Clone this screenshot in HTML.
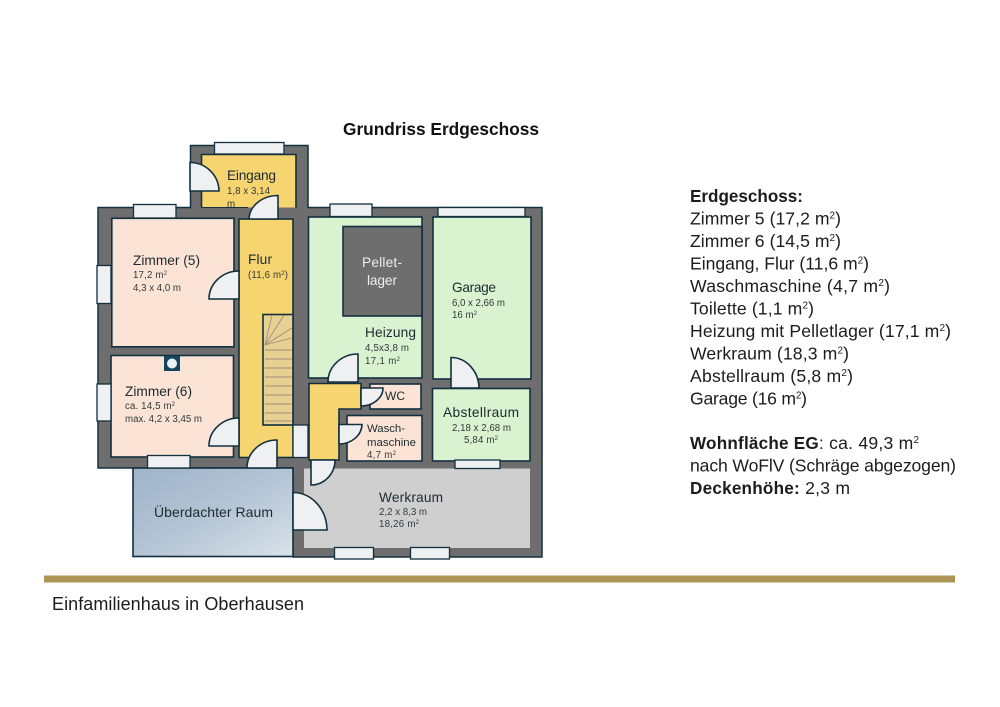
<!DOCTYPE html>
<html lang="de">
<head>
<meta charset="utf-8">
<title>Grundriss Erdgeschoss</title>
<style>
html,body{margin:0;padding:0;background:#fff;width:1000px;height:707px;overflow:hidden}
svg{display:block}
text{font-family:"Liberation Sans",sans-serif;fill:#1d2a30}
.xl{font-size:13.7px}
.s{font-size:9.7px;fill:#33393c}
.r{font-size:17.6px;fill:#1c1c1c}
.b{font-size:17.1px;font-weight:bold}
</style>
</head>
<body>
<svg width="1000" height="707" viewBox="0 0 1000 707" xmlns="http://www.w3.org/2000/svg">
<defs>
<linearGradient id="blue" x1="0" y1="0" x2="1" y2="1">
<stop offset="0" stop-color="#9fb3c9"/><stop offset="0.5" stop-color="#b4c4d4"/><stop offset="1" stop-color="#d9e2e9"/>
</linearGradient>
</defs>
<rect width="1000" height="707" fill="#fff"/>

<text x="343" y="135" font-size="17.3" font-weight="bold" style="fill:#111" textLength="196">Grundriss Erdgeschoss</text>

<!-- walls -->
<path d="M98 207.500H190.500V145.500H308V207.500H542V557H293V468H98Z" fill="#6e6e6e" stroke="#12303f" stroke-width="1.5"/>

<!-- rooms -->
<g stroke="#12303f" stroke-width="1.6">
<path d="M201.500 207.500V154.500H296V207.500" fill="#f6d46f"/>
<rect x="111.800" y="218.300" width="122.200" height="128.500" fill="#fbe3d6"/>
<rect x="111" y="355.500" width="122.500" height="101.500" fill="#fbe3d6"/>
<rect x="239" y="219" width="54" height="238.500" fill="#f6d46f"/>
<rect x="308.500" y="217" width="113.500" height="161" fill="#d9f2d0"/>
<rect x="343" y="226.500" width="79" height="89.500" fill="#6e6e6e"/>
<rect x="433" y="217" width="98" height="162" fill="#d9f2d0"/>
<rect x="432.500" y="388.500" width="97.500" height="72.500" fill="#d9f2d0"/>
<rect x="370" y="384" width="51" height="25" fill="#fbe3d6"/>
<rect x="347" y="415.500" width="75" height="45.500" fill="#fbe3d6"/>
<path d="M309 383.500H361V409H339V460H309Z" fill="#f6d46f"/>
<rect x="133" y="468" width="160" height="88.500" fill="url(#blue)"/>
</g>
<rect x="304" y="468.500" width="226" height="79.500" fill="#cfcfcf"/>

<!-- Eingang text that runs into the wall -->
<text class="s" x="227" y="207">m</text>
<rect x="202" y="207.500" width="46" height="10" fill="#6e6e6e"/>
<path d="M202 207.500H248" stroke="#12303f" stroke-width="1"/>

<!-- stairs -->
<rect x="263" y="314.500" width="30" height="110.500" fill="#e8cf92"/>
<g stroke="#9c8f7c" stroke-width="0.9" fill="none">
<path d="M265 345L272 315M265 345L284 315M265 345L292 328M265 345L292 338M265 350H292M265 359H292M265 368H292M265 377H292M265 386H292M265 395H292M265 404H292M265 413H292M265 421H292"/>
</g>
<rect x="263" y="314.500" width="30" height="110.500" fill="none" stroke="#12303f" stroke-width="1.6"/>

<!-- windows -->
<g fill="#eef0f2" stroke="#12303f" stroke-width="1.3">
<rect x="214.500" y="142.500" width="69.500" height="11.500"/>
<rect x="133.500" y="204.500" width="42.500" height="13.500"/>
<rect x="97" y="265.500" width="14" height="38"/>
<rect x="97" y="384" width="14" height="37"/>
<rect x="147.500" y="455.500" width="42.500" height="12.500"/>
<rect x="293" y="425" width="15" height="32.500"/>
<rect x="330" y="204" width="42" height="12.500"/>
<rect x="438" y="207.500" width="87" height="9"/>
<rect x="455" y="460" width="45" height="8.500"/>
<rect x="334.500" y="547.500" width="39" height="11.500"/>
<rect x="410.500" y="547.500" width="39" height="11.500"/>
</g>

<!-- vent -->
<rect x="164" y="356" width="16" height="15" fill="#12465f"/>
<circle cx="172" cy="363.500" r="5" fill="#eef0f2"/>

<!-- doors -->
<g fill="#eef0f2" stroke="#12303f" stroke-width="1.6">
<path d="M190 162.500A29 29 0 0 1 219 191H190Z"/>
<path d="M249 219A29 24 0 0 1 278 195.500V219Z"/>
<path d="M209 299A30 28 0 0 1 239 271V299Z"/>
<path d="M209 446A30 28 0 0 1 239 418V446Z"/>
<path d="M247 468A30 28 0 0 1 277 440V468Z"/>
<path d="M293 492.500A34 38 0 0 1 327 530H293Z"/>
<path d="M328 382A30 28 0 0 1 358 354V382Z"/>
<path d="M451 357.500A28 31 0 0 1 479 388H451Z"/>
<path d="M361 388H383A22 18 0 0 1 361 406Z"/>
<path d="M339 424.500H362A23 20 0 0 1 339 444Z"/>
<path d="M311 460H335A24 25 0 0 1 311 485Z"/>
</g>

<!-- room labels -->
<text class="xl" x="227" y="180" textLength="49">Eingang</text>
<text class="s" x="227" y="194" textLength="43">1,8 x 3,14</text>

<text class="xl" x="133" y="265" textLength="67">Zimmer (5)</text>
<text class="s" x="133" y="278" textLength="34">17,2 m<tspan dy="-3" font-size="6">2</tspan></text>
<text class="s" x="133" y="291" textLength="48">4,3 x 4,0 m</text>

<text class="xl" x="248" y="264" textLength="24">Flur</text>
<text class="s" x="248" y="278" textLength="40">(11,6 m<tspan dy="-3" font-size="6">2</tspan><tspan dy="3">)</tspan></text>

<text class="xl" x="125" y="396" textLength="67">Zimmer (6)</text>
<text class="s" x="125" y="409" textLength="50">ca. 14,5 m<tspan dy="-3" font-size="6">2</tspan></text>
<text class="s" x="125" y="422" textLength="77">max. 4,2 x 3,45 m</text>

<text x="154" y="517" font-size="14" textLength="119">Überdachter Raum</text>

<text class="xl" x="362" y="267" textLength="40" style="fill:#eeeeee">Pellet-</text>
<text class="xl" x="367" y="285" textLength="30" style="fill:#eeeeee">lager</text>

<text class="xl" x="365" y="337" textLength="51">Heizung</text>
<text class="s" x="365" y="351" textLength="44">4,5x3,8 m</text>
<text class="s" x="365" y="364" textLength="35">17,1 m<tspan dy="-3" font-size="6">2</tspan></text>

<text class="xl" x="452" y="292" textLength="44">Garage</text>
<text class="s" x="452" y="306" textLength="53">6,0 x 2,66 m</text>
<text class="s" x="452" y="318" textLength="25">16 m<tspan dy="-3" font-size="6">2</tspan></text>

<text x="385" y="400" font-size="12">WC</text>

<text class="xl" x="443" y="417" textLength="76">Abstellraum</text>
<text class="s" x="452" y="431" textLength="59">2,18 x 2,68 m</text>
<text class="s" x="464" y="443" textLength="34">5,84 m<tspan dy="-3" font-size="6">2</tspan></text>

<text x="367" y="432" font-size="11.400" textLength="38">Wasch-</text>
<text x="367" y="446" font-size="11.400" textLength="49">maschine</text>
<text class="s" x="367" y="458" textLength="29">4,7 m<tspan dy="-3" font-size="6">2</tspan></text>

<text class="xl" x="379" y="502" textLength="64">Werkraum</text>
<text class="s" x="379" y="515" textLength="48">2,2 x 8,3 m</text>
<text class="s" x="379" y="527" textLength="40">18,26 m<tspan dy="-3" font-size="6">2</tspan></text>

<!-- right panel -->
<text class="r b" x="690" y="202" textLength="113">Erdgeschoss:</text>
<text class="r" x="690" y="224.500" textLength="151">Zimmer 5 (17,2 m<tspan dy="-6" font-size="10">2</tspan><tspan dy="6">)</tspan></text>
<text class="r" x="690" y="247" textLength="151">Zimmer 6 (14,5 m<tspan dy="-6" font-size="10">2</tspan><tspan dy="6">)</tspan></text>
<text class="r" x="690" y="269.500" textLength="179">Eingang, Flur (11,6 m<tspan dy="-6" font-size="10">2</tspan><tspan dy="6">)</tspan></text>
<text class="r" x="690" y="292" textLength="200">Waschmaschine (4,7 m<tspan dy="-6" font-size="10">2</tspan><tspan dy="6">)</tspan></text>
<text class="r" x="690" y="314.500" textLength="124">Toilette (1,1 m<tspan dy="-6" font-size="10">2</tspan><tspan dy="6">)</tspan></text>
<text class="r" x="690" y="337" textLength="261">Heizung mit Pelletlager (17,1 m<tspan dy="-6" font-size="10">2</tspan><tspan dy="6">)</tspan></text>
<text class="r" x="690" y="359.500" textLength="159">Werkraum (18,3 m<tspan dy="-6" font-size="10">2</tspan><tspan dy="6">)</tspan></text>
<text class="r" x="690" y="382" textLength="163">Abstellraum (5,8 m<tspan dy="-6" font-size="10">2</tspan><tspan dy="6">)</tspan></text>
<text class="r" x="690" y="404.500" textLength="117">Garage (16 m<tspan dy="-6" font-size="10">2</tspan><tspan dy="6">)</tspan></text>
<text class="r" x="690" y="449" textLength="229"><tspan font-weight="bold" font-size="17.100">Wohnfläche EG</tspan>: ca. 49,3 m<tspan dy="-6" font-size="10">2</tspan></text>
<text class="r" x="690" y="471.500" textLength="266">nach WoFlV (Schräge abgezogen)</text>
<text class="r" x="690" y="494" textLength="160"><tspan font-weight="bold" font-size="17.100">Deckenhöhe:</tspan> 2,3 m</text>

<!-- rule + footer -->
<rect x="44" y="575.500" width="911" height="7" fill="#ac9553"/>
<text x="52" y="610" font-size="18" textLength="252" style="fill:#1c1c1c">Einfamilienhaus in Oberhausen</text>
</svg>
</body>
</html>
